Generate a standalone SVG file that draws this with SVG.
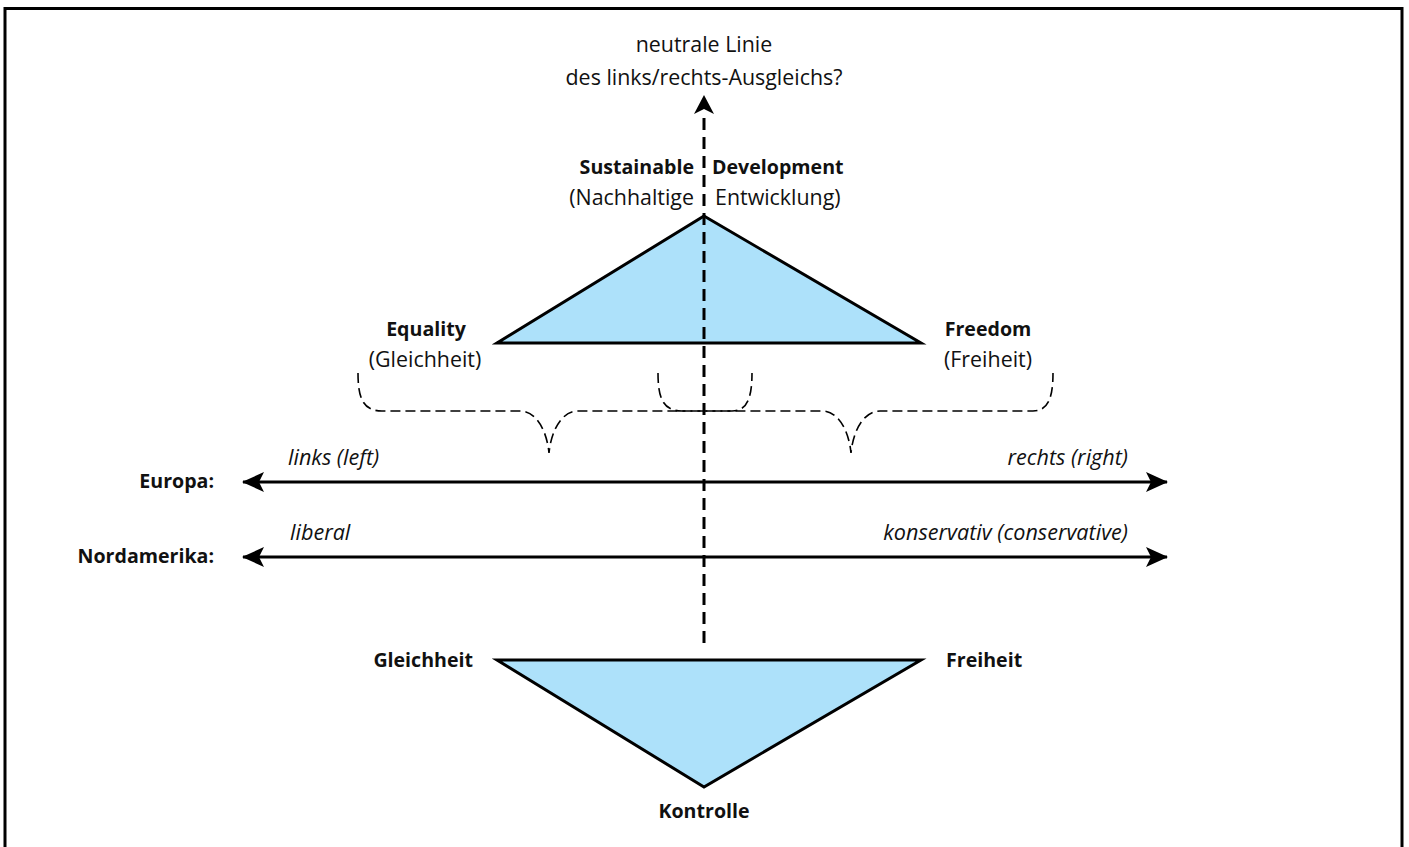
<svg xmlns="http://www.w3.org/2000/svg" width="1409" height="847" viewBox="0 0 1409 847">
  <style>
    text { font-family: "Open Sans", "Noto Sans", "Liberation Sans", sans-serif; font-size: 21.4px; fill: #111; }
    .b { font-weight: bold; font-size: 19.6px; }
    .i { font-style: italic; font-size: 21.6px; }
    .m { text-anchor: middle; }
    .e { text-anchor: end; }
    .tri { fill: #ade1fa; stroke: #000; stroke-width: 3; stroke-linejoin: miter; }
    .axis { stroke: #000; stroke-width: 3; fill: none; }
    .neutral { stroke: #000; stroke-width: 3; stroke-dasharray: 12 7; fill: none; }
    .brace { stroke: #000; stroke-width: 1.6; stroke-dasharray: 10 5; fill: none; }
  </style>
  <defs>
    <marker id="head" viewBox="0 0 22 20" refX="21" refY="10" markerWidth="22" markerHeight="20" markerUnits="userSpaceOnUse" orient="auto-start-reverse">
      <path d="M0,0 L22,10 L0,20 L5,10 Z" fill="#000"/>
    </marker>
  </defs>

  <rect width="1409" height="847" fill="#fff"/>
  <!-- frame, open at the bottom -->
  <path d="M5,847 V8.5 H1402 V847" fill="none" stroke="#000" stroke-width="3"/>

  <!-- triangles -->
  <g id="triangle-top">
    <polygon class="tri" points="704,216 921,343 497,343"/>
  </g>
  <g id="triangle-bottom">
    <polygon class="tri" points="497,660 921,660 704,787"/>
  </g>

  <g id="connectors">
    <!-- neutral line -->
    <line class="neutral" x1="704" y1="643" x2="704" y2="112"/>
    <path d="M704,95 L714,114 L704,109 L694,114 Z" fill="#000"/>
    <!-- axes -->
    <line class="axis" x1="243" y1="482" x2="1167" y2="482" marker-start="url(#head)" marker-end="url(#head)"/>
    <line class="axis" x1="243" y1="557" x2="1167" y2="557" marker-start="url(#head)" marker-end="url(#head)"/>
    <!-- braces -->
    <path class="brace" d="M358,373 C358,398 363,411 382,411 L520,411 C537,411 547,432 549,453 C551,432 561,411 578,411 L732,411 C747,411 752,398 752,373"/>
    <path class="brace" d="M658,373 C658,398 663,411 682,411 L822,411 C839,411 849,432 851,453 C853,432 863,411 880,411 L1033,411 C1048,411 1053,398 1053,373"/>
  </g>

  <g id="label-neutral">
    <text class="m" x="704" y="52">neutrale Linie</text>
    <text class="m" x="704" y="85">des links/rechts-Ausgleichs?</text>
  </g>
  <g id="label-sd">
    <text class="b e" x="694" y="174">Sustainable</text>
    <text class="b" x="712" y="174">Development</text>
    <text class="e" x="694" y="205">(Nachhaltige</text>
    <text x="715" y="205">Entwicklung)</text>
  </g>
  <g id="label-equality">
    <text class="b m" x="426" y="336">Equality</text>
    <text class="m" x="425" y="367">(Gleichheit)</text>
  </g>
  <g id="label-freedom">
    <text class="b m" x="988" y="336">Freedom</text>
    <text class="m" x="988" y="367">(Freiheit)</text>
  </g>
  <g id="label-europa">
    <text class="b e" x="214" y="488">Europa:</text>
    <text class="i" x="288" y="465">links (left)</text>
    <text class="i e" x="1128" y="465">rechts (right)</text>
  </g>
  <g id="label-nordamerika">
    <text class="b e" x="214" y="563">Nordamerika:</text>
    <text class="i" x="290" y="540">liberal</text>
    <text class="i e" x="1128" y="540">konservativ (conservative)</text>
  </g>
  <g id="label-bottom">
    <text class="b e" x="473" y="667">Gleichheit</text>
    <text class="b" x="946" y="667">Freiheit</text>
    <text class="b m" x="704" y="818">Kontrolle</text>
  </g>
</svg>
